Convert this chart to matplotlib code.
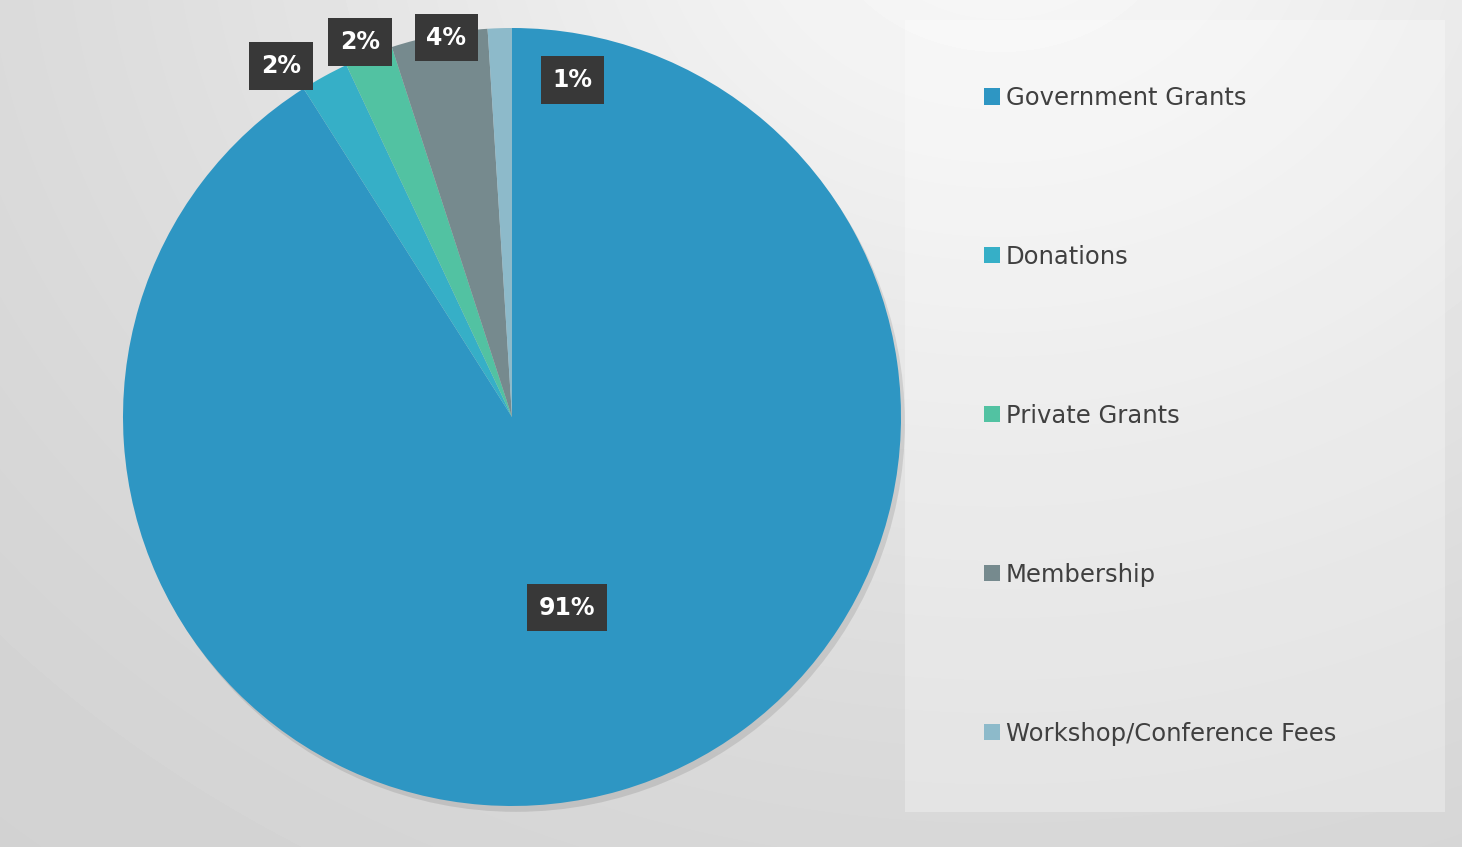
import matplotlib.pyplot as plt
from matplotlib.patches import Rectangle, Circle
import numpy as np

# data (clockwise from 12 o'clock)
sources = ['Government Grants', 'Donations', 'Private Grants', 'Membership',
           'Workshop/Conference Fees']
shares = [91, 2, 2, 4, 1]
pct_labels = ['91%', '2%', '2%', '4%', '1%']
colors = ['#2E96C3', '#36AFC7', '#52C2A2', '#768A8E', '#8DBACA']

# where each percentage box sits: (radius, angle shift in degrees)
label_place = [(0.51, 0), (1.08, 4.6), (1.04, 0.5), (0.99, -1.0), (0.88, -12)]

W, H = 1462, 847
fig = plt.figure(figsize=(W / 100, H / 100), dpi=100)

# gray gradient background
bg = fig.add_axes([0, 0, 1, 1])
yy, xx = np.mgrid[0:H, 0:W]
d = np.sqrt((xx - 1000) ** 2 + ((yy + 100) * 1.2) ** 2)
g = 0.97 - 0.17 * np.tanh(d / 1000) ** 1.5
bg.imshow(g, cmap='gray', vmin=0, vmax=1, extent=[0, W, H, 0], aspect='auto')
bg.set_xlim(0, W)
bg.set_ylim(H, 0)
bg.axis('off')

# legend panel
bg.add_patch(Rectangle((905, 20), 540, 792, facecolor='white', alpha=0.3,
                       edgecolor='none'))

ax = fig.add_axes([123 / W, 41 / H, 778 / W, 778 / H])
ax.add_patch(Circle((0.01, -0.015), 1.0, facecolor='black', alpha=0.1,
                    edgecolor='none', zorder=0, clip_on=False))
wedges, _ = ax.pie(shares, colors=colors, startangle=90, counterclock=False,
                   radius=1.0, wedgeprops=dict(linewidth=0))
ax.set_xlim(-1, 1)
ax.set_ylim(-1, 1)
ax.set_aspect('equal')
ax.axis('off')

for w, txt, (r, shift) in zip(wedges, pct_labels, label_place):
    mid = np.deg2rad((w.theta1 + w.theta2) / 2 + shift)
    ax.text(r * np.cos(mid), r * np.sin(mid), txt, ha='center', va='center',
            color='white', fontsize=17, fontweight='bold', family='DejaVu Sans',
            bbox=dict(boxstyle='square,pad=0.5', facecolor='#383838',
                      edgecolor='none'), zorder=5, clip_on=False)

leg = fig.legend(wedges, sources, loc='upper left',
                 bbox_to_anchor=(984 / W, 1 - 86 / H), frameon=False,
                 fontsize=17.5, labelcolor='#404040', handlelength=0.65,
                 handleheight=0.65, handletextpad=0.25, labelspacing=5.55,
                 borderaxespad=0, borderpad=0)

fig.savefig('out.png', dpi=100)
